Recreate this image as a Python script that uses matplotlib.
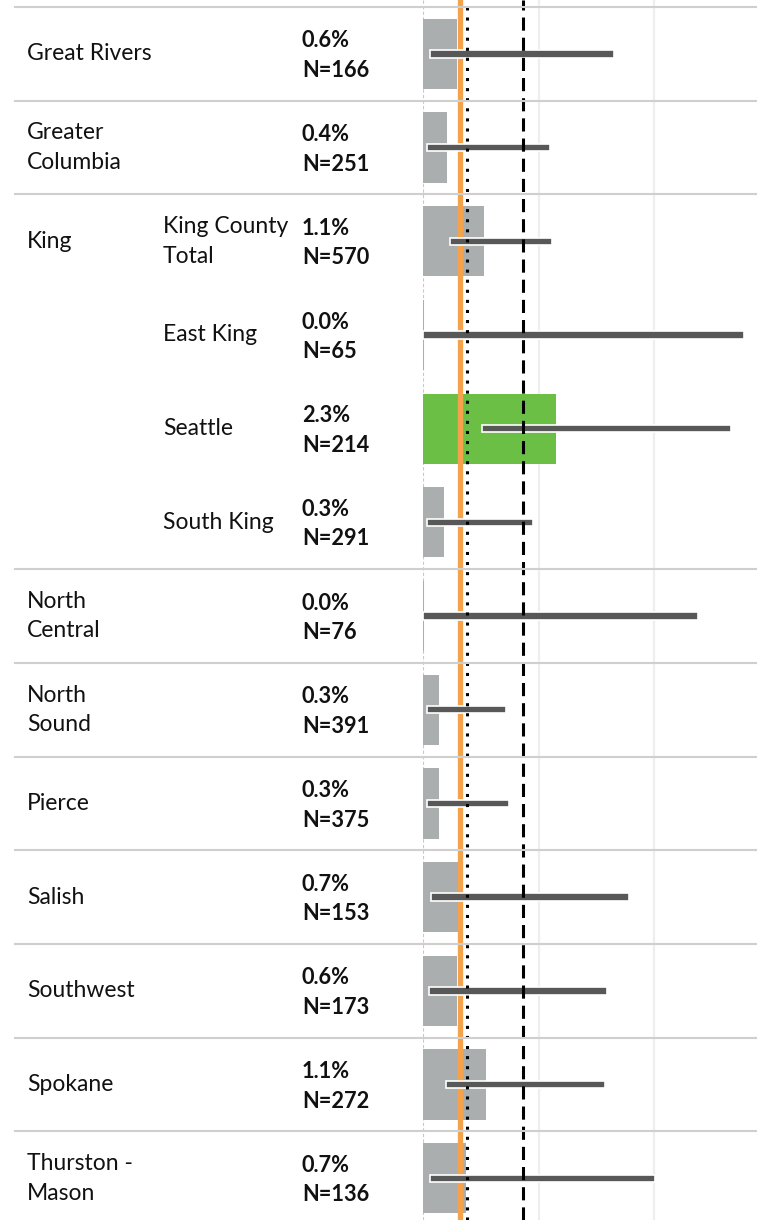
import numpy as np
import matplotlib
matplotlib.use("Agg")
import matplotlib.pyplot as plt
from matplotlib.transforms import blended_transform_factory
from matplotlib.lines import Line2D

# row labels (region, sub-region) and the values
regions = ["Great Rivers", "Greater\nColumbia", "King", "", "", "",
           "North\nCentral", "North\nSound", "Pierce", "Salish",
           "Southwest", "Spokane", "Thurston -\nMason"]
subregions = ["", "", "King County\nTotal", "East King", "Seattle", "South King",
              "", "", "", "", "", "", ""]
pct_labels = ["0.6%", "0.4%", "1.1%", "0.0%", "2.3%", "0.3%", "0.0%",
              "0.3%", "0.3%", "0.7%", "0.6%", "1.1%", "0.7%"]
n_labels = [166, 251, 570, 65, 214, 291, 76, 391, 375, 153, 173, 272, 136]

pct = [0.58, 0.41, 1.05, 0.0, 2.30, 0.36, 0.0, 0.27, 0.27, 0.60, 0.58, 1.08, 0.74]
ci_low = [0.12, 0.06, 0.46, 0.0, 1.02, 0.07, 0.0, 0.07, 0.07, 0.13, 0.10, 0.39, 0.12]
ci_high = [3.30, 2.19, 2.23, 5.55, 5.33, 1.90, 4.76, 1.43, 1.48, 3.57, 3.18, 3.14, 4.01]
highlight = [False, False, False, False, True, False, False,
             False, False, False, False, False, False]

state_rate = 0.64     # orange line
ref_dotted = 0.75
ref_dashed = 1.73

# separators sit above these rows
sep_rows = [0, 1, 2, 6, 7, 8, 9, 10, 11, 12]

W, H = 757, 1220
top_px, row_px = 7, 93.7
x0_px = 423.3

plt.rcParams['font.family'] = ['Lato', 'DejaVu Sans']

fig = plt.figure(figsize=(W / 100, H / 100), dpi=100)
ax = fig.add_axes([x0_px / W, 0, 1 - x0_px / W, 1])
ax.patch.set_alpha(0)
ax.set_xlim(0, 5.78)
ax.set_ylim((H - top_px) / row_px - 0.5, -0.5 - top_px / row_px)
ax.axis("off")

rows = np.arange(len(regions))
bar_colors = ["#6BBF45" if h else "#ABAEAF" for h in highlight]

for g in [2, 4]:
    ax.axvline(g, color="#EEEEEE", lw=1.6, zorder=0)
ax.axvline(0, color="#C8C8C8", lw=0.8, ls=(0, (3, 2)), zorder=0.5)

ax.barh(rows, pct, height=0.75, color=bar_colors, zorder=1)
# zero-width bars still show as a thin sliver
zero = [i for i, p in enumerate(pct) if p == 0]
ax.barh(rows[zero], [0.02] * len(zero), height=0.75, color="#ABAEAF", zorder=1)

ax.axvline(state_rate, color="#F5A24C", lw=3.8, zorder=2)

lo = np.array(ci_low)
hi = np.array(ci_high)
ax.barh(rows, hi - lo, left=lo, height=0.08, color="#585858",
        edgecolor="white", linewidth=1.2, zorder=3)

ax.axvline(ref_dotted, color="black", lw=2.2, ls=(0, (1, 2.3)), zorder=4)
ax.axvline(ref_dashed, color="black", lw=2.2, ls=(0, (4.3, 2.3)), zorder=4)

# text columns and row separators
trans = blended_transform_factory(fig.transFigure, ax.transData)
txt = dict(transform=trans, va="center", ha="left", linespacing=1.5,
           color="#111111")
for r in rows:
    if regions[r]:
        ax.text(27 / W, r, regions[r], fontsize=16.5, **txt)
    if subregions[r]:
        ax.text(163 / W, r, subregions[r], fontsize=16.5, **txt)
    ax.text(302 / W, r + 0.02, pct_labels[r] + "\nN=" + str(n_labels[r]),
            fontsize=15.7, fontweight="bold", **txt)

for r in sep_rows:
    ax.add_line(Line2D([15 / W, 1], [r - 0.5, r - 0.5], transform=trans,
                       color="#CFCFCF", lw=1.5, clip_on=False, zorder=5))

fig.savefig("out.png", dpi=100)
